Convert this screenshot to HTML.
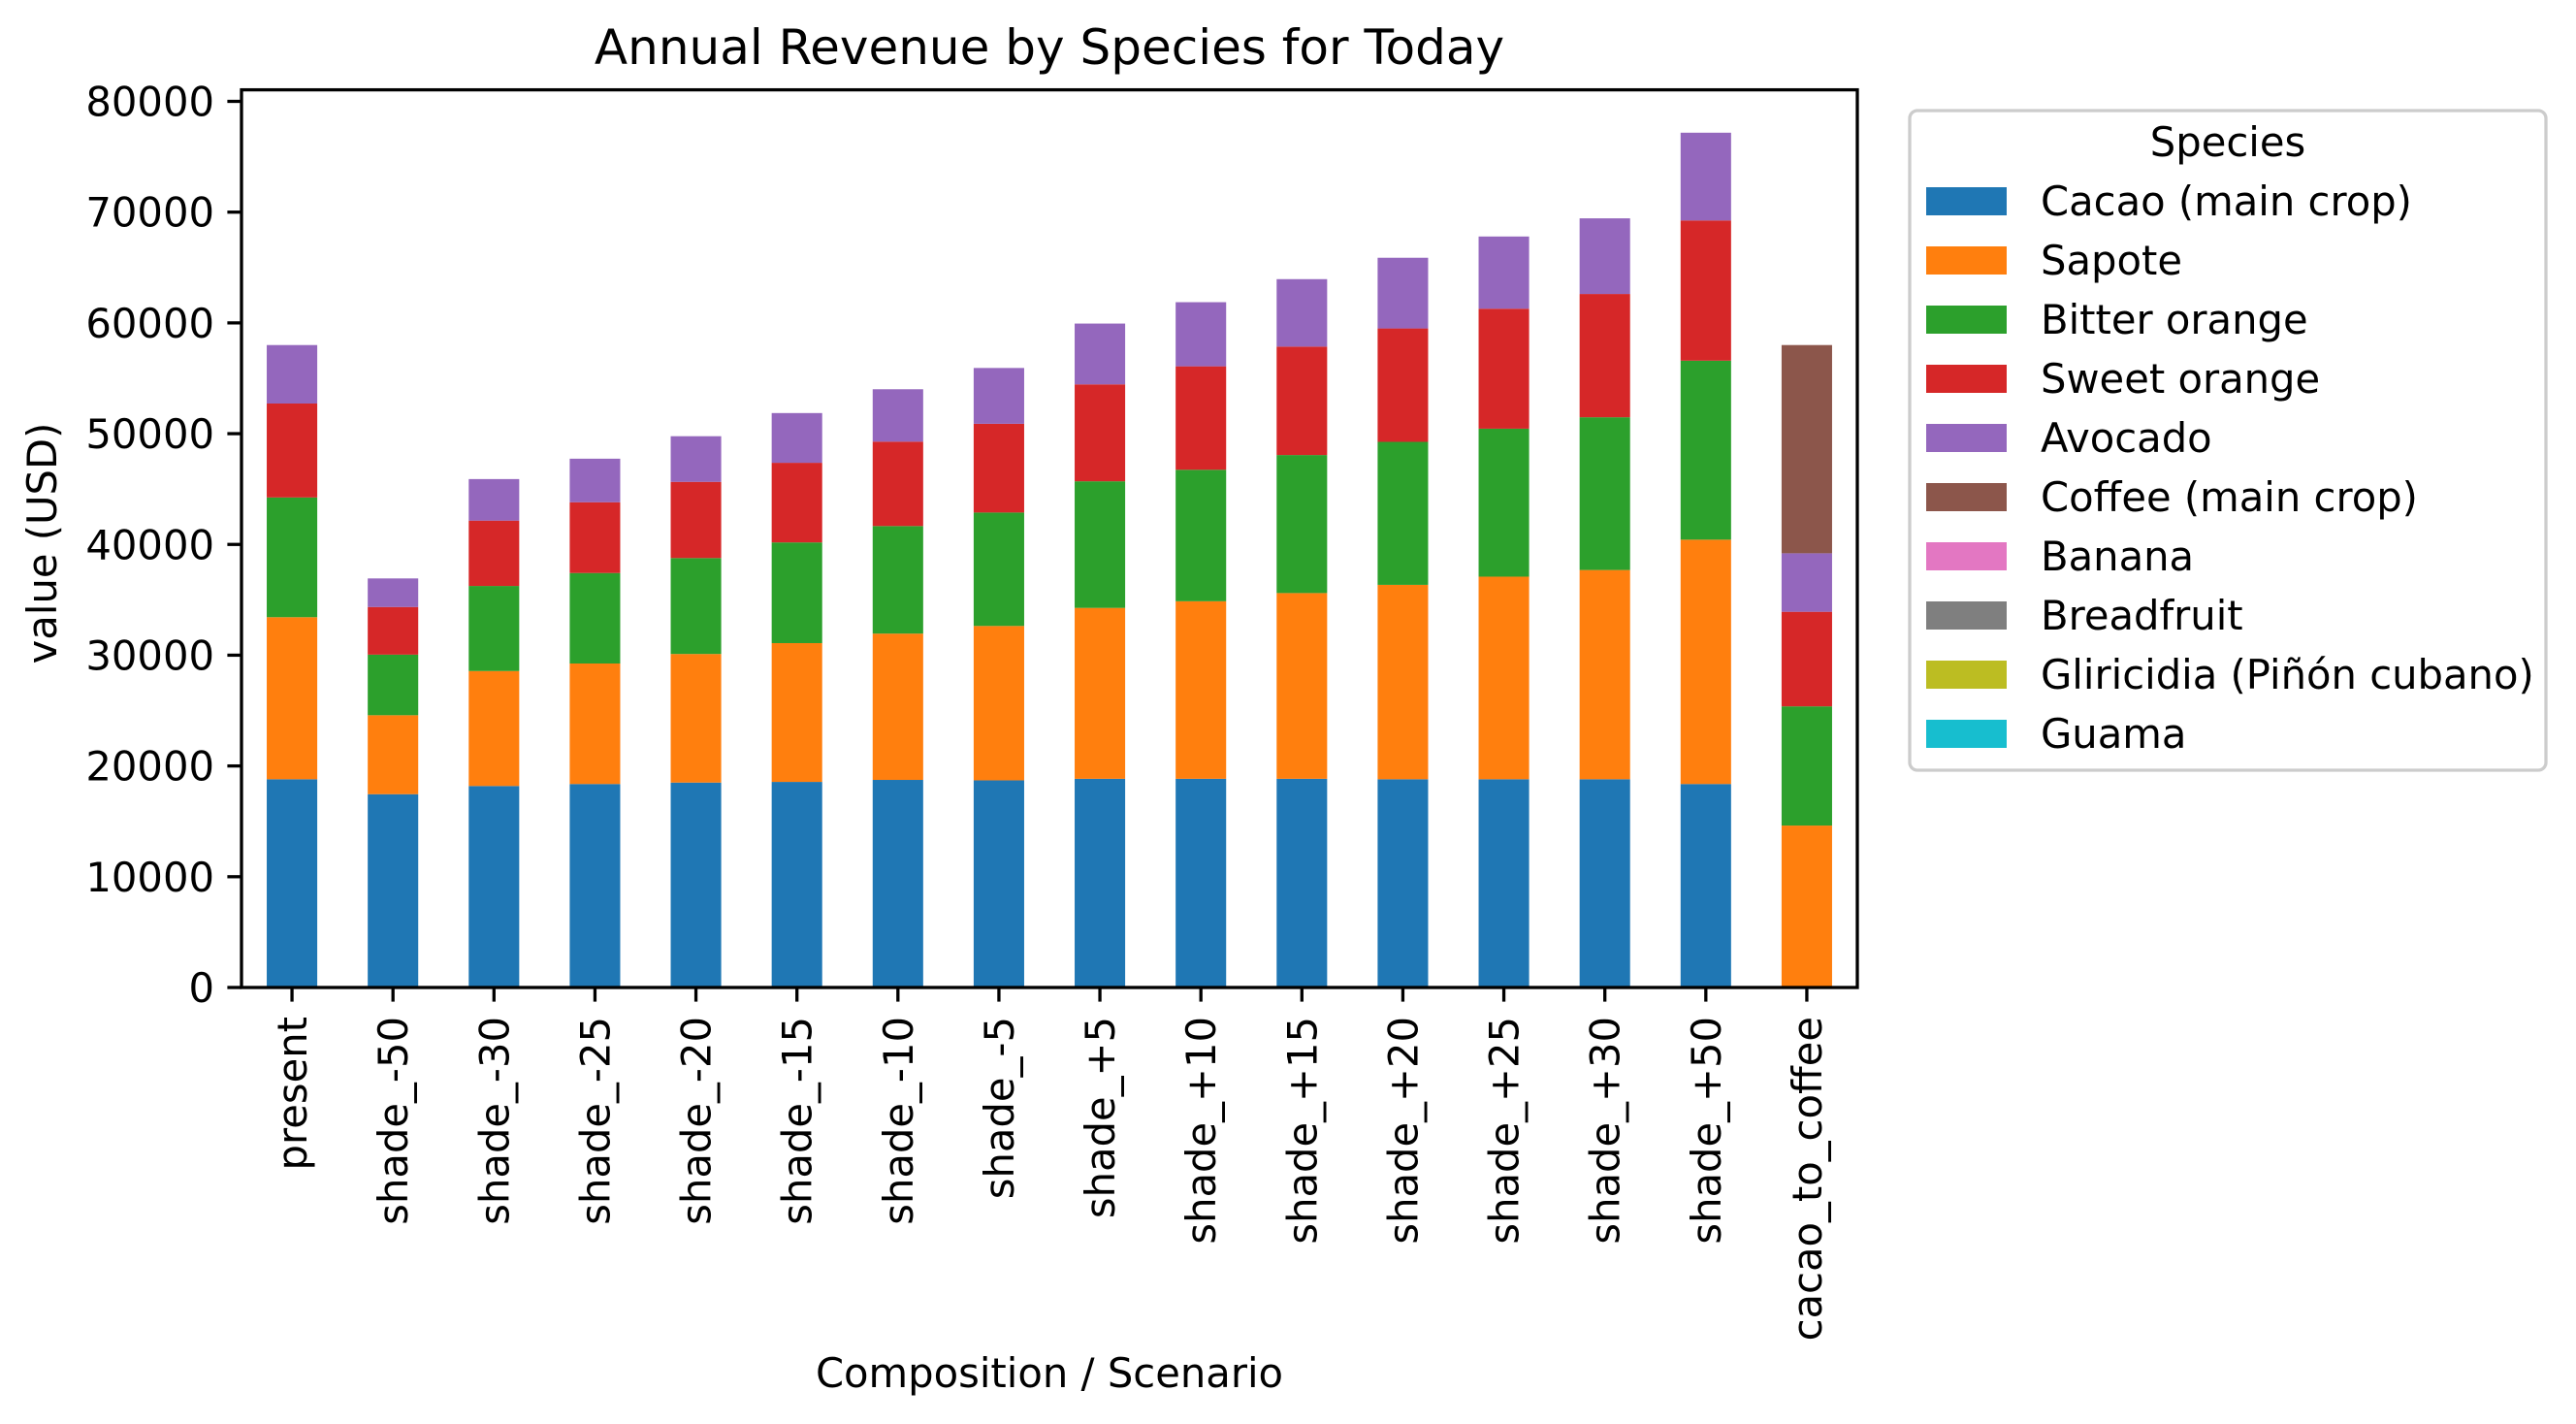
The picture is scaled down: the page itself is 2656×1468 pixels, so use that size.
<!DOCTYPE html>
<html><head><meta charset="utf-8"><style>
html,body{margin:0;padding:0;background:#fff;}
svg{display:block;font-family:"DejaVu Sans","Liberation Sans",sans-serif;}
</style></head><body>
<svg id="chart" width="2656" height="1468" viewBox="0 0 2656 1468" xmlns="http://www.w3.org/2000/svg">
<rect width="2656" height="1468" fill="#fff"/>
<text x="1082" y="66" font-size="50" text-anchor="middle">Annual Revenue by Species for Today</text>
<g id="bars"></g>
<g id="axes"></g>
<text x="0" y="0" font-size="41.7" text-anchor="middle" transform="translate(58,560) rotate(-90)">value (USD)</text>
<text x="1082" y="1430" font-size="41.7" text-anchor="middle">Composition / Scenario</text>
<g id="legend">
<rect x="1969" y="114" width="656" height="680" rx="8" fill="#fff" stroke="#cccccc" stroke-width="3.3"/>
<text x="2297" y="161" font-size="41.7" text-anchor="middle">Species</text>
</g>
</svg>
<script>
const categories = ["present","shade_-50","shade_-30","shade_-25","shade_-20","shade_-15","shade_-10","shade_-5","shade_+5","shade_+10","shade_+15","shade_+20","shade_+25","shade_+30","shade_+50","cacao_to_coffee"];
const speciesNames = ["Cacao (main crop)","Sapote","Bitter orange","Sweet orange","Avocado","Coffee (main crop)","Banana","Breadfruit","Gliricidia (Piñón cubano)","Guama"];
const speciesColors = ["#1f77b4","#ff7f0e","#2ca02c","#d62728","#9467bd","#8c564b","#e377c2","#7f7f7f","#bcbd22","#17becf"];
const cacaoValues = [18800,17450,18190,18370,18500,18560,18740,18700,18840,18840,18840,18800,18800,18800,18370,0];
const sapoteValues = [14630,7130,10380,10880,11610,12530,13210,13940,15430,16030,16770,17550,18290,18890,22060,14620];
const bitterOrangeValues = [10810,5470,7680,8170,8660,9090,9710,10240,11430,11870,12460,12910,13360,13790,16160,10760];
const sweetOrangeValues = [8480,4300,5900,6390,6880,7190,7620,8010,8750,9340,9790,10240,10830,11130,12660,8540];
const avocadoValues = [5280,2580,3750,3930,4120,4490,4730,5040,5490,5790,6090,6380,6520,6830,7920,5280];
const coffeeValues = [0,0,0,0,0,0,0,0,0,0,0,0,0,0,0,18800];
const bananaValues = [0,0,0,0,0,0,0,0,0,0,0,0,0,0,0,0];
const breadfruitValues = [0,0,0,0,0,0,0,0,0,0,0,0,0,0,0,0];
const gliricidiaValues = [0,0,0,0,0,0,0,0,0,0,0,0,0,0,0,0];
const guamaValues = [0,0,0,0,0,0,0,0,0,0,0,0,0,0,0,0];
const yTicks = [0,10000,20000,30000,40000,50000,60000,70000,80000];

const series = [cacaoValues,sapoteValues,bitterOrangeValues,sweetOrangeValues,avocadoValues,coffeeValues,bananaValues,breadfruitValues,gliricidiaValues,guamaValues];
const NS = "http://www.w3.org/2000/svg";
const L = 249, R = 1915, T = 92.6, B = 1018;
const yMax = 81000;
function yScale(v){ return B - (v / 80000) * (B - 104.5); }
const step = (R - L) / categories.length;
function xScale(i){ return L + step * (i + 0.5); }
const barW = step * 0.5;

const barsG = document.getElementById('bars');
categories.forEach((c, i) => {
  let acc = 0;
  series.forEach((s, k) => {
    const v = s[i];
    if (!v) return;
    const r = document.createElementNS(NS, 'rect');
    r.setAttribute('x', xScale(i) - barW / 2);
    r.setAttribute('y', yScale(acc + v));
    r.setAttribute('width', barW);
    r.setAttribute('height', yScale(acc) - yScale(acc + v));
    r.setAttribute('fill', speciesColors[k]);
    
    
    barsG.appendChild(r);
    acc += v;
  });
});

const axesG = document.getElementById('axes');
const frame = document.createElementNS(NS, 'rect');
frame.setAttribute('x', L); frame.setAttribute('y', T);
frame.setAttribute('width', R - L); frame.setAttribute('height', B - T);
frame.setAttribute('fill', 'none'); frame.setAttribute('stroke', '#000'); frame.setAttribute('stroke-width', '3.3');


axesG.appendChild(frame);

yTicks.forEach(t => {
  const y = yScale(t);
  const ln = document.createElementNS(NS, 'line');
  ln.setAttribute('x1', L - 14.6); ln.setAttribute('x2', L);
  ln.setAttribute('y1', y); ln.setAttribute('y2', y);
  ln.setAttribute('stroke', '#000'); ln.setAttribute('stroke-width', '3.3');
  
  
  axesG.appendChild(ln);
  const tx = document.createElementNS(NS, 'text');
  tx.setAttribute('x', L - 28); tx.setAttribute('y', y + 15);
  tx.setAttribute('font-size', '41.7'); tx.setAttribute('text-anchor', 'end');
  tx.textContent = String(t);
  
  
  axesG.appendChild(tx);
});

categories.forEach((c, i) => {
  const x = xScale(i);
  const ln = document.createElementNS(NS, 'line');
  ln.setAttribute('x1', x); ln.setAttribute('x2', x);
  ln.setAttribute('y1', B); ln.setAttribute('y2', B + 14.6);
  ln.setAttribute('stroke', '#000'); ln.setAttribute('stroke-width', '3.3');
  
  
  axesG.appendChild(ln);
  const tx = document.createElementNS(NS, 'text');
  tx.setAttribute('font-size', '41.7'); tx.setAttribute('text-anchor', 'end');
  tx.setAttribute('transform', 'translate(' + (x + 15) + ',' + (B + 30) + ') rotate(-90)');
  tx.textContent = c;
  
  
  axesG.appendChild(tx);
});

const legG = document.getElementById('legend');
speciesNames.forEach((n, k) => {
  const y = 193 + k * 61;
  const r = document.createElementNS(NS, 'rect');
  r.setAttribute('x', 1986); r.setAttribute('y', y);
  r.setAttribute('width', 83); r.setAttribute('height', 29);
  r.setAttribute('fill', speciesColors[k]);
  
  
  legG.appendChild(r);
  const tx = document.createElementNS(NS, 'text');
  tx.setAttribute('x', 2104); tx.setAttribute('y', y + 29);
  tx.setAttribute('font-size', '41.7');
  tx.textContent = n;
  
  
  legG.appendChild(tx);
});
</script>
</body></html>
